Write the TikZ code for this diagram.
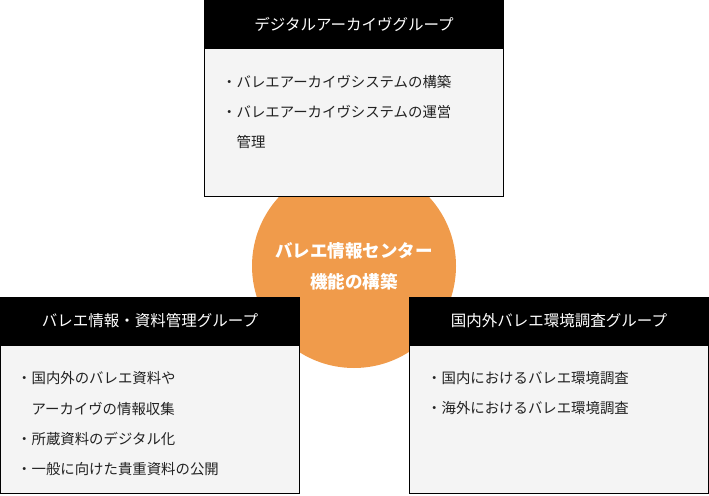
\documentclass[tikz,border=0pt]{standalone}
\usepackage{fontspec}
\newfontfamily\jp{Noto Sans CJK JP}
\usetikzlibrary{positioning}
\definecolor{hubOrange}{RGB}{240,155,75}
\definecolor{paper}{RGB}{244,244,244}
\definecolor{ink}{RGB}{34,34,34}

\begin{document}
\begin{tikzpicture}[
    x=1pt, y=-1pt,
    head/.style={rectangle, draw=black, fill=black, line width=1pt, text=white,
                 minimum width=299pt, minimum height=48pt,
                 inner sep=0pt, outer sep=0pt,
                 font=\jp\fontsize{15.5}{18}\selectfont},
    body/.style={rectangle, draw=black, fill=paper, line width=1pt,
                 minimum width=299pt, minimum height=148pt,
                 inner sep=0pt, outer sep=0pt},
    item/.style={anchor=west, inner sep=0pt, text=ink,
                 font=\jp\fontsize{14.4}{17}\selectfont},
    hub/.style={circle, fill=hubOrange, minimum size=204pt, inner sep=0pt,
                align=center, text=white,
                font=\jp\bfseries\fontsize{17.5}{31}\selectfont}
]
  \useasboundingbox (0,0) rectangle (709,495);

  % --- Centre circle (behind the groups) ---
  \node[hub] (hub) at (354,266) {バレエ情報センター\\機能の構築};

  % --- Digital archive group (top) ---
  \node[head] (archH) at (354,24.5) {デジタルアーカイヴグループ};
  \node[body, below=0pt of archH] (archB) {};
  \node[item] (arch1) at (222,82) {・バレエアーカイヴシステムの構築};
  \node[item] (arch2) at (222,112) {・バレエアーカイヴシステムの運営};
  \node[item] (arch2b) at (236.4,142) {管理};

  % --- Information / materials group (left) ---
  \node[head] (infoH) at (150,321) {バレエ情報・資料管理グループ};
  \node[body, below=0pt of infoH] (infoB) {};
  \node[item] (info1) at (17,378) {・国内外のバレエ資料や};
  \node[item] (info1b) at (31.4,409) {アーカイヴの情報収集};
  \node[item] (info2) at (17,439) {・所蔵資料のデジタル化};
  \node[item] (info3) at (17,469) {・一般に向けた貴重資料の公開};

  % --- Survey group (right) ---
  \node[head] (survH) at (559,321) {国内外バレエ環境調査グループ};
  \node[body, below=0pt of survH] (survB) {};
  \node[item] (surv1) at (427,378) {・国内におけるバレエ環境調査};
  \node[item] (surv2) at (427,408) {・海外におけるバレエ環境調査};

\end{tikzpicture}
\end{document}
